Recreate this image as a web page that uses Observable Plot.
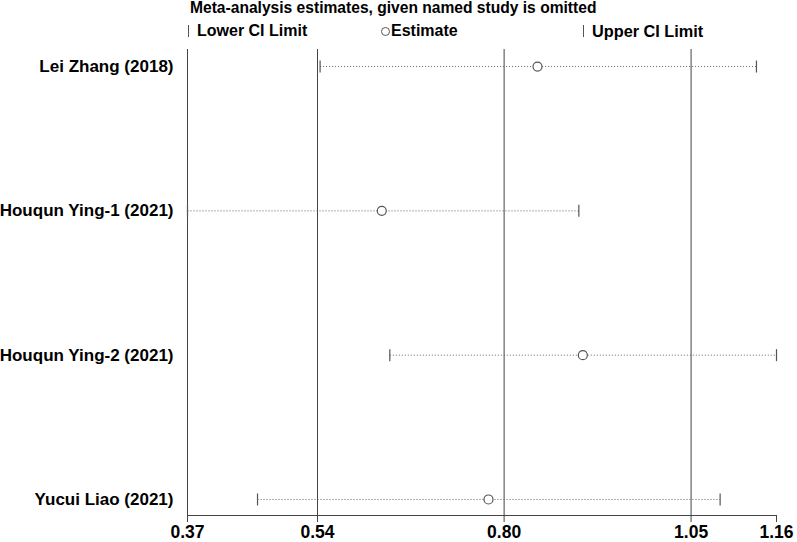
<!DOCTYPE html>
<html>
<head>
<meta charset="utf-8">
<script src="https://cdn.jsdelivr.net/npm/d3@7"></script>
<script src="https://cdn.jsdelivr.net/npm/@observablehq/plot@0.6"></script>
<style>
  body { margin: 0; background: white; font-family: "Liberation Sans", Arial, sans-serif; }
  #header { position: relative; width: 797px; height: 47px; font-weight: bold; color: #000; }
  #header .t { position: absolute; white-space: nowrap; line-height: 16px; }
  #header .bar { position: absolute; width: 0; height: 12px; border-left: 1px solid #555; }
  #header .circ { position: absolute; width: 7px; height: 7px; border: 1px solid #555; border-radius: 50%; }
</style>
</head>
<body>
<div id="header">
  <div class="t" style="left:190px; top:0px; font-size:15.6px;">Meta-analysis estimates, given named study is omitted</div>
  <div class="bar" style="left:188px; top:25px;"></div>
  <div class="t" style="left:197px; top:23px; font-size:16px;">Lower CI Limit</div>
  <div class="circ" style="left:381px; top:27px;"></div>
  <div class="t" style="left:391px; top:23px; font-size:16px;">Estimate</div>
  <div class="bar" style="left:583px; top:25px;"></div>
  <div class="t" style="left:592px; top:23px; font-size:16.3px;">Upper CI Limit</div>
</div>
<div id="chart"></div>
<script>
const studies = ["Lei Zhang (2018)", "Houqun Ying-1 (2021)", "Houqun Ying-2 (2021)", "Yucui Liao (2021)"];
const estimate = [0.8404, 0.6291, 0.9019, 0.7739];
const lowerCI = [0.5454, 0.3655, 0.6400, 0.4605];
const upperCI = [1.1375, 0.8965, 1.1647, 1.0882];
// overall combined estimate lines: lower CI, estimate, upper CI
const refLines = [0.5419, 0.7951, 1.0488];
const axisTicks = [0.3655, 0.5419, 0.7951, 1.0488, 1.1647];
const xDomain = [0.3655, 1.1647];
// row index axis (study 0 at top)
const yDomain = [-0.118, 3.111];

const rows = studies.map((s, i) => ({i, study: s, est: estimate[i], lo: lowerCI[i], hi: upperCI[i]}));

const vbar = {
  draw(context, size) {
    const h = Math.sqrt(size / Math.PI);
    context.moveTo(0, -h);
    context.lineTo(0, h);
  }
};

const chart = Plot.plot({
  width: 797,
  height: 495,
  marginLeft: 187,
  marginRight: 21,
  marginTop: 2,
  marginBottom: 27,
  style: "font-family: 'Liberation Sans', Arial, sans-serif; font-weight: bold; background: white;",
  x: {domain: xDomain},
  y: {domain: yDomain, reverse: true},
  marks: [
    Plot.ruleX([xDomain[0], ...refLines], {stroke: "#444", strokeWidth: 1}),
    Plot.ruleY([yDomain[1]], {stroke: "#444", strokeWidth: 1}),
    Plot.link(rows, {x1: "lo", x2: "hi", y1: "i", y2: "i", stroke: "#666", strokeWidth: 1, strokeDasharray: "1,2"}),
    Plot.dot(rows, {x: "lo", y: "i", symbol: vbar, r: 6, stroke: "#555", strokeWidth: 1.2}),
    Plot.dot(rows, {x: "hi", y: "i", symbol: vbar, r: 6, stroke: "#555", strokeWidth: 1.2}),
    Plot.dot(rows, {x: "est", y: "i", r: 4.5, stroke: "#555", fill: "white", strokeWidth: 1.2}),
    Plot.axisX(axisTicks, {tickSize: 7, tickPadding: 3, tickFormat: d3.format(".2f"), fontSize: 17.5, fontWeight: "bold", stroke: "#444", label: null}),
    Plot.axisY(studies.map((s, i) => i), {tickSize: 0, tickPadding: 14, tickFormat: i => studies[i], fontSize: 17, fontWeight: "bold", label: null})
  ]
});
document.getElementById("chart").appendChild(chart);
</script>
</body>
</html>
